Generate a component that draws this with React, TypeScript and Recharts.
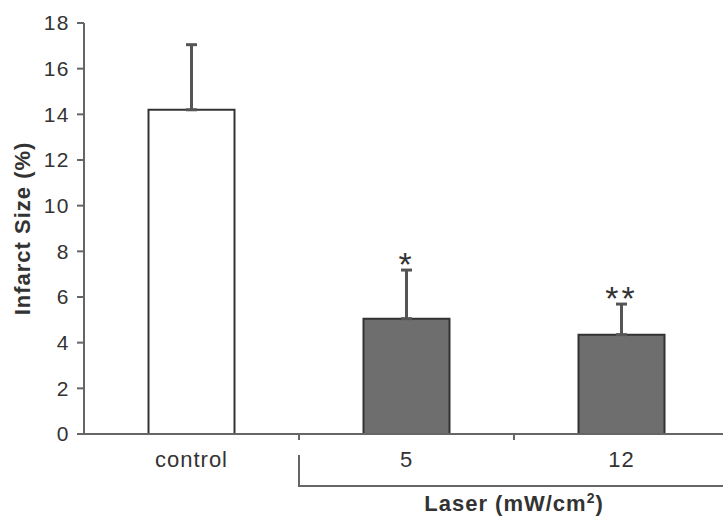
import { Bar, Cell, ComposedChart, ErrorBar, LabelList, Line, XAxis, YAxis } from "recharts";

const groups = ["control", "5", "12"];
const infarctSize = [14.2, 5.05, 4.35];
const errorUp = [2.85, 2.13, 1.34];
const marks = ["", "*", "**"];
const barFills = ["#ffffff", "#6e6e6e", "#6e6e6e"];
const yTicks = [0, 2, 4, 6, 8, 10, 12, 14, 16, 18];

const data = groups.map((group, i) => ({
	group,
	value: infarctSize[i],
	err: [0, errorUp[i]],
	top: infarctSize[i] + errorUp[i],
	mark: marks[i],
}));

const axisColor = "#666"
const textColor = "#333"

const YLabel = ({ viewBox }: any) => {
	const cy = viewBox.y + viewBox.height / 2;
	return (
		<text x={30} y={cy} transform={`rotate(-90, 30, ${cy})`} textAnchor="middle"
			fontSize={22} letterSpacing={1} fontWeight="bold" fill={textColor}>
			Infarct Size (%)
		</text>
	)
}

// tick marks between categories + bracket under the two laser groups
const LaserBracket = ({ viewBox }: any) => {
	const { x, y, width } = viewBox;
	const band = width / groups.length;
	const x0 = x + band;
	const x1 = x + width;
	return (
		<g>
			{groups.slice(1).map((_, i) => (
				<line key={`edge-${i}`} x1={x + band * (i + 1)} x2={x + band * (i + 1)} y1={y} y2={y + 6}
					stroke={axisColor} strokeWidth={2} />
			))}
			<polyline points={`${x0},${y + 21} ${x0},${y + 52} ${x1},${y + 52}`}
				fill="none" stroke={axisColor} strokeWidth={2} />
			<text x={(x0 + x1) / 2} y={y + 77} textAnchor="middle" fontSize={22} letterSpacing={1}
				fontWeight="bold" fill={textColor}>
				Laser (mW/cm<tspan dy={-8} fontSize={14}>2</tspan><tspan dy={8}>)</tspan>
			</text>
		</g>
	)
}

export default function App() {
	return (
		<div style={{ position: "absolute", left: 0, top: 0, fontFamily: "'Liberation Sans', Arial, sans-serif" }}>
			<ComposedChart width={723} height={516} data={data} barCategoryGap="30%"
				margin={{ top: 23, right: -6, bottom: 0, left: 0 }}>
				<XAxis xAxisId="cat" dataKey="group" height={82} tickLine={false} tickSize={6} tickMargin={11}
					axisLine={{ stroke: axisColor, strokeWidth: 2 }}
					tick={{ fontSize: 22, letterSpacing: 1, fill: textColor }}
					label={<LaserBracket />} />
				<YAxis domain={[0, 18]} ticks={yTicks} width={84} allowDataOverflow
					tickSize={7} tickMargin={7}
					axisLine={{ stroke: axisColor, strokeWidth: 2 }}
					tickLine={{ stroke: axisColor, strokeWidth: 2 }}
					tick={{ fontSize: 21, letterSpacing: 1.5, fill: textColor }}
					label={<YLabel />} />
				<Bar xAxisId="cat" dataKey="value" stroke="#333" strokeWidth={2} isAnimationActive={false}>
					{data.map((_, i) => (
						<Cell key={`bar-${i}`} fill={barFills[i]} />
					))}
					<ErrorBar dataKey="err" width={5.5} stroke="#555" strokeWidth={3} isAnimationActive={false} />
				</Bar>
				<Line xAxisId="cat" dataKey="top" stroke="none" dot={false} activeDot={false} isAnimationActive={false}>
					<LabelList dataKey="mark" position="top" offset={-6} fontSize={34} letterSpacing={3} fill={textColor} />
				</Line>
			</ComposedChart>
		</div>
	)
}
